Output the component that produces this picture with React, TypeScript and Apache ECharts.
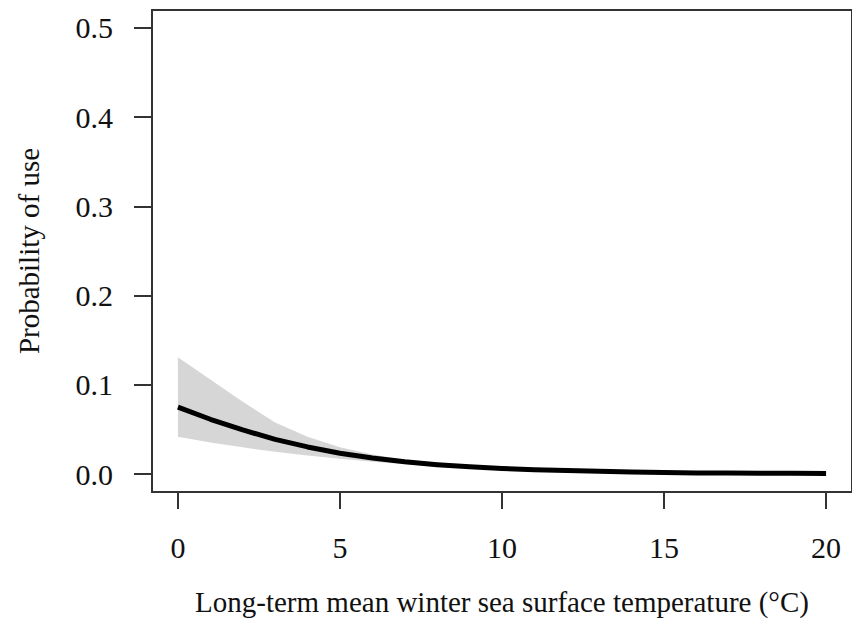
import React, { useEffect, useRef } from "react";
import * as echarts from "echarts";

const xValues = [0, 1, 2, 3, 4, 5, 6, 7, 8, 9, 10, 11, 12, 13, 14, 15, 16, 17, 18, 19, 20];
const fitValues = [0.075, 0.0615, 0.0495, 0.039, 0.0305, 0.0235, 0.018, 0.0138, 0.0106, 0.0082, 0.0064, 0.0050, 0.0040, 0.0032, 0.0025, 0.0018, 0.0014, 0.0012, 0.0010, 0.0009, 0.0008];
const lowerBand = [0.042, 0.0355, 0.030, 0.025, 0.0208, 0.0172, 0.0140, 0.0110, 0.0085, 0.0065, 0.0050, 0.0038, 0.0029, 0.0022, 0.0016, 0.0012, 0.0009, 0.0007, 0.0005, 0.0004, 0.0003];
const upperBand = [0.131, 0.106, 0.081, 0.058, 0.042, 0.030, 0.022, 0.016, 0.012, 0.0095, 0.0078, 0.0065, 0.0053, 0.0045, 0.0038, 0.0031, 0.0026, 0.0022, 0.0019, 0.0017, 0.0015];
const xTickValues = [0, 5, 10, 15, 20];
const yTickValues = [0, 0.1, 0.2, 0.3, 0.4, 0.5];
const xTitle = "Long-term mean winter sea surface temperature (°C)";
const yTitle = "Probability of use";

const FONT = '"Liberation Serif", "Times New Roman", serif';

export default function App() {
  const ref = useRef<HTMLDivElement>(null);
  useEffect(() => {
    if (!ref.current) return;
    const chart = echarts.init(ref.current, null, { renderer: "svg" });
    const bandData = [[0, 0]];
    chart.setOption({
      animation: false,
      backgroundColor: "#ffffff",
      grid: {
        left: 152,
        right: -2,
        top: 10,
        bottom: 147,
        show: true,
        borderColor: "#333",
        borderWidth: 2,
        backgroundColor: "transparent",
      },
      xAxis: {
        type: "value",
        min: -0.8,
        max: 20.8,
        name: xTitle,
        nameLocation: "middle",
        nameGap: 95,
        nameTextStyle: { fontFamily: FONT, fontSize: 29, color: "#111", verticalAlign: "top" },
        axisLine: { show: false, onZero: false },
        splitLine: { show: false },
        axisTick: {
          show: true,
          length: 17,
          inside: false,
          customValues: xTickValues,
          lineStyle: { color: "#333", width: 2 },
        },
        axisLabel: {
          customValues: xTickValues,
          margin: 40,
          fontFamily: FONT,
          fontSize: 30,
          color: "#111",
          formatter: (v: number) => String(v),
        },
      },
      yAxis: {
        type: "value",
        min: -0.02,
        max: 0.52,
        name: yTitle,
        nameLocation: "middle",
        nameGap: 109,
        nameTextStyle: { fontFamily: FONT, fontSize: 29, color: "#111" },
        axisLine: { show: false, onZero: false },
        splitLine: { show: false },
        axisTick: {
          show: true,
          length: 18,
          inside: false,
          customValues: yTickValues,
          lineStyle: { color: "#333", width: 2 },
        },
        axisLabel: {
          customValues: yTickValues,
          margin: 39,
          fontFamily: FONT,
          fontSize: 30,
          color: "#111",
          formatter: (v: number) => v.toFixed(1),
        },
      },
      series: [
        {
          type: "custom",
          silent: true,
          data: bandData,
          z: 1,
          renderItem: (params: any, api: any) => {
            if (params.dataIndex !== 0) return null;
            const pts: number[][] = [];
            for (let i = 0; i < xValues.length; i++) {
              pts.push(api.coord([xValues[i], upperBand[i]]));
            }
            for (let i = xValues.length - 1; i >= 0; i--) {
              pts.push(api.coord([xValues[i], lowerBand[i]]));
            }
            return {
              type: "polygon",
              shape: { points: pts },
              style: { fill: "#d6d6d6", stroke: "none" },
            };
          },
        },
        {
          type: "line",
          z: 2,
          data: xValues.map((x, i) => [x, fitValues[i]]),
          showSymbol: false,
          smooth: false,
          lineStyle: { color: "#000", width: 5, join: "round" },
          silent: true,
        },
      ],
    });
    return () => chart.dispose();
  }, []);
  return (
    <div
      ref={ref}
      style={{ position: "absolute", left: 0, top: 0, width: 852, height: 639, background: "#fff" }}
    />
  );
}
